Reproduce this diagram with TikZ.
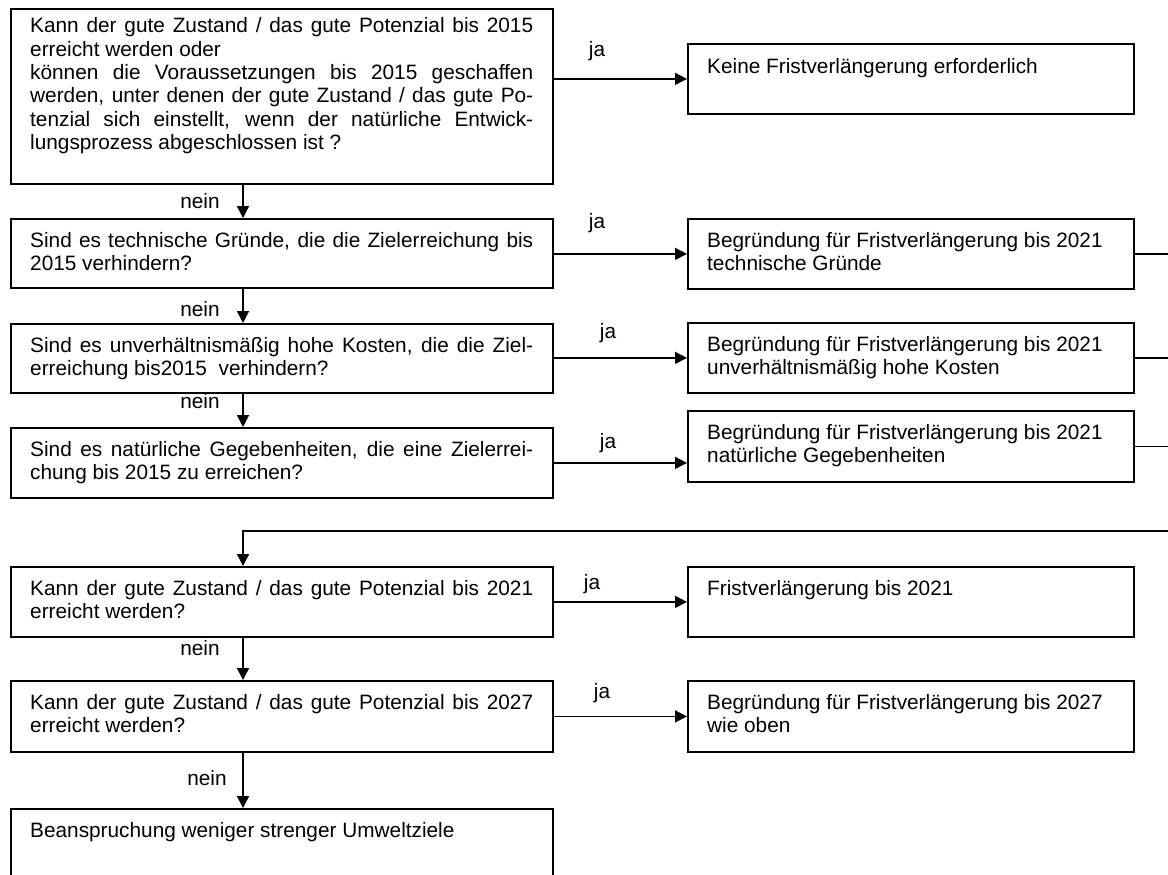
\documentclass[tikz,border=0pt]{standalone}
\usepackage{fontspec}
\setmainfont{Liberation Sans}
\usetikzlibrary{arrows.meta}
\begin{document}
\begin{tikzpicture}[x=1pt,y=-1pt,
  box/.style={draw=black, line width=1.8pt, rectangle, inner sep=0pt, anchor=north west},
  lbox/.style={box, minimum width=542pt},
  rbox/.style={box, minimum width=446pt},
  txt/.style={anchor=base west, inner sep=0pt, text width=503pt, align=justify, font=\fontsize{20.8}{23.3}\selectfont},
  lbl/.style={anchor=base, inner sep=0pt, font=\fontsize{20.8}{23.3}\selectfont},
  arr/.style={line width=1.4pt, -{Triangle[length=12pt,width=12pt]}},
  ln/.style={line width=1.4pt}]
\useasboundingbox (0,0) rectangle (1168,875);
\clip (0,0) rectangle (1168,875);
\fill[white] (0,0) rectangle (1168,875);

% left question boxes
\node[lbox, minimum height=175pt] (q1) at (10,8) {};
\node[lbox, minimum height=69pt] (q2) at (10,218) {};
\node[lbox, minimum height=69pt] (q3) at (10,323) {};
\node[lbox, minimum height=70pt] (q4) at (10,427) {};
\node[lbox, minimum height=70pt] (q5) at (10,566) {};
\node[lbox, minimum height=71pt] (q6) at (10,680) {};
\node[lbox, minimum height=80pt] (q7) at (10,808) {};

% right result boxes
\node[rbox, minimum height=70pt] (a1) at (687,43) {};
\node[rbox, minimum height=70pt] (a2) at (687,218) {};
\node[rbox, minimum height=70pt] (a3) at (687,322) {};
\node[rbox, minimum height=71pt] (a4) at (687,410) {};
\node[rbox, minimum height=70pt] (a5) at (687,566) {};
\node[rbox, minimum height=71pt] (a6) at (687,680) {};

% texts left
\node[txt] (q1t) at (30,33) {\makebox[503pt][s]{Kann der gute Zustand / das gute Potenzial bis 2015}\\
erreicht werden oder\\
\makebox[503pt][s]{können die Voraussetzungen bis 2015 geschaffen}\\
\makebox[503pt][s]{werden, unter denen der gute Zustand / das gute Po-}\\
\makebox[503pt][s]{tenzial sich einstellt, wenn der natürliche Entwick-}\\
lungsprozess abgeschlossen ist ?};
\node[txt] (q2t) at (30,247) {\makebox[503pt][s]{Sind es technische Gründe, die die Zielerreichung bis}\\
2015 verhindern?};
\node[txt] (q3t) at (30,352) {\makebox[503pt][s]{Sind es unverhältnismäßig hohe Kosten, die die Ziel-}\\
erreichung bis2015\ \ verhindern?};
\node[txt] (q4t) at (30,456) {\makebox[503pt][s]{Sind es natürliche Gegebenheiten, die eine Zielerrei-}\\
chung bis 2015 zu erreichen?};
\node[txt] (q5t) at (30,595) {\makebox[503pt][s]{Kann der gute Zustand / das gute Potenzial bis 2021}\\
erreicht werden?};
\node[txt] (q6t) at (30,709) {\makebox[503pt][s]{Kann der gute Zustand / das gute Potenzial bis 2027}\\
erreicht werden?};
\node[txt] (q7t) at (30,837) {Beanspruchung weniger strenger Umweltziele};

% texts right
\node[txt] (a1t) at (707,74) {Keine Fristverlängerung erforderlich};
\node[txt] (a2t) at (707,247) {Begründung für Fristverlängerung bis 2021\\ technische Gründe};
\node[txt] (a3t) at (707,351) {Begründung für Fristverlängerung bis 2021\\ unverhältnismäßig hohe Kosten};
\node[txt] (a4t) at (707,439) {Begründung für Fristverlängerung bis 2021\\ natürliche Gegebenheiten};
\node[txt] (a5t) at (707,595) {Fristverlängerung bis 2021};
\node[txt] (a6t) at (707,709) {Begründung für Fristverlängerung bis 2027\\ wie oben};

% helper coordinates
\coordinate (vx) at (243,0);
\coordinate (R) at (1172,0);
\coordinate (loopR) at (1172,531);

% ja connectors
\draw[arr] (q1.east |- a1.west) -- (a1.west);
\draw[arr] (q2.east |- a2.west) -- (a2.west);
\draw[arr] (q3.east |- a3.west) -- (a3.west);
\draw[arr] (q4.east) -- (q4.east -| a4.west);
\draw[arr] (q5.east |- a5.west) -- (a5.west);
\draw[arr] (q6.east |- a6.west) -- (a6.west);

% nein connectors
\draw[arr] (q1.south -| vx) -- (q2.north -| vx);
\draw[arr] (q2.south -| vx) -- (q3.north -| vx);
\draw[arr] (q3.south -| vx) -- (q4.north -| vx);
\draw[arr] (q5.south -| vx) -- (q6.north -| vx);
\draw[arr] (q6.south -| vx) -- (q7.north -| vx);

% lines leaving to the right
\draw[ln] (a2.east) -- (a2.east -| R);
\draw[ln] (a3.east) -- (a3.east -| R);
\draw[ln] (a4.east) -- (a4.east -| R);
\draw[arr] (loopR) -- (loopR -| vx) -- (q5.north -| vx);

% labels
\node[lbl] (ja1) at (597,57) {ja};
\node[lbl] (ja2) at (597,228) {ja};
\node[lbl] (ja3) at (608,338) {ja};
\node[lbl] (ja4) at (608,448) {ja};
\node[lbl] (ja5) at (592,589) {ja};
\node[lbl] (ja6) at (602,698) {ja};
\node[lbl] (n1) at (200,208.5) {nein};
\node[lbl] (n2) at (200,316.5) {nein};
\node[lbl] (n3) at (200,408.5) {nein};
\node[lbl] (n5) at (200,655.5) {nein};
\node[lbl] (n6) at (207,785) {nein};
\end{tikzpicture}
\end{document}
